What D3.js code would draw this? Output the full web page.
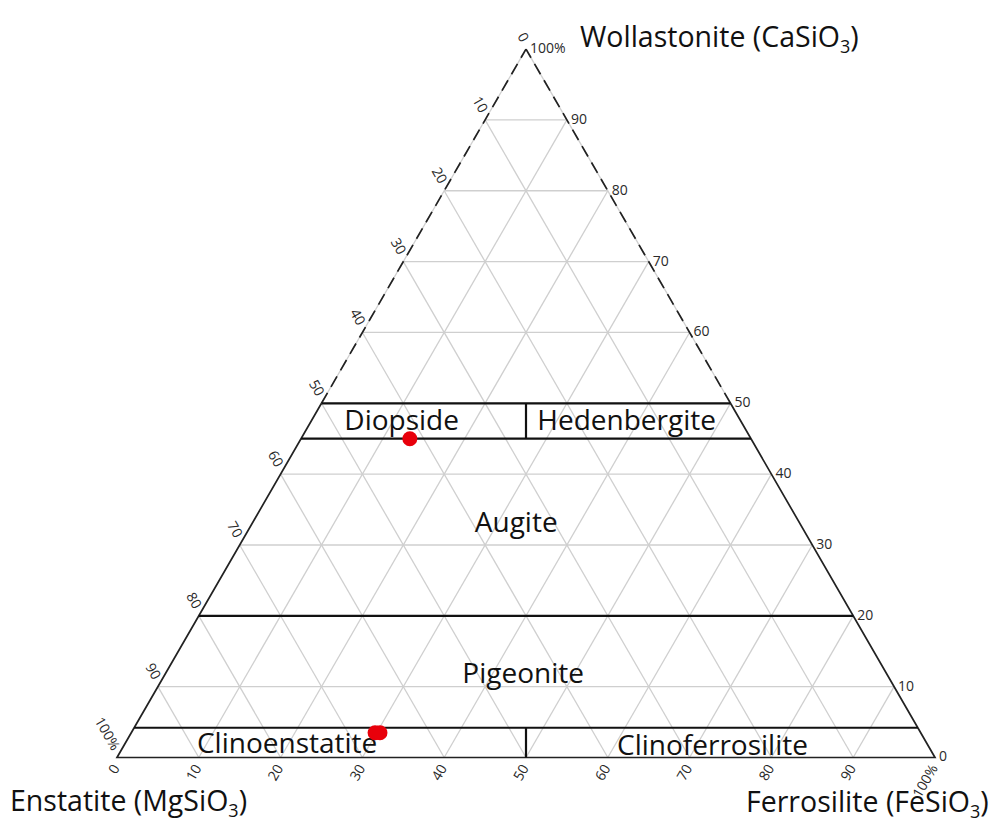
<!DOCTYPE html>
<html>
<head>
<meta charset="utf-8">
<script src="https://cdn.jsdelivr.net/npm/d3@7"></script>
<style>
  html, body { margin: 0; padding: 0; background: #fff; }
  svg { display: block; font-family: "Open Sans", "Noto Sans", sans-serif; }
</style>
</head>
<body>
<svg id="chart" width="989" height="825"></svg>
<script>
// Pyroxene quadrilateral on the Wo–En–Fs ternary (mol %)
const gridValues = [10, 20, 30, 40, 50, 60, 70, 80, 90];
const tickValues = [0, 10, 20, 30, 40, 50, 60, 70, 80, 90, 100];
const tickLabels = ["0", "10", "20", "30", "40", "50", "60", "70", "80", "90", "100%"];

// Horizontal field boundaries (Wo %)
const boundaryWo = [50, 45, 20, 4.2];
// Vertical dividers at En = Fs, between two Wo levels
const dividers = [[45, 50], [0, 4.2]];

// Field names and their label anchors (Wo, Fs)
const fieldNames = ["Diopside", "Hedenbergite", "Augite", "Pigeonite", "Clinoenstatite", "Clinoferrosilite"];
const fieldWo    = [47.6, 47.6, 33.2, 11.9, 2.0, 1.8];
const fieldFs    = [11.0, 38.5, 32.2, 43.7, 19.8, 71.9];

// Analysed pyroxenes (Wo, En, Fs)
const sampleWo = [45.0, 3.5, 3.5];
const sampleEn = [41.7, 66.7, 66.1];
const sampleFs = [13.3, 29.8, 30.4];

const svg = d3.select("#chart");

const xLeft = 117, xRight = 935, yBase = 757.5;
const side = xRight - xLeft;
const yApex = yBase - side * Math.sqrt(3) / 2;

// Horizontal position follows Fs + Wo/2, vertical position follows Wo
const xScale = d3.scaleLinear().domain([0, 100]).range([xLeft, xRight]);
const yScale = d3.scaleLinear().domain([0, 100]).range([yBase, yApex]);
const pt = (wo, fs) => [xScale(fs + wo / 2), yScale(wo)];

const line = d3.line();

// Light grid, every 10 % along each component
const grid = svg.append("g").attr("stroke", "#cfcfcf").attr("stroke-width", 1.3).attr("fill", "none");
gridValues.forEach(v => {
  grid.append("path").attr("d", line([pt(v, 0), pt(v, 100 - v)]));          // Wo = v
  grid.append("path").attr("d", line([pt(0, v), pt(100 - v, v)]));          // Fs = v
  grid.append("path").attr("d", line([pt(0, 100 - v), pt(100 - v, 0)]));    // En = v
});

// Upper edges: grey under a dashed black line
const edges = svg.append("g").attr("fill", "none");
edges.append("path").attr("d", line([pt(50, 0), pt(100, 0)])).attr("stroke", "#cfcfcf").attr("stroke-width", 1.3);
edges.append("path").attr("d", line([pt(50, 50), pt(100, 0)])).attr("stroke", "#cfcfcf").attr("stroke-width", 1.3);
edges.append("path").attr("d", line([pt(50, 0), pt(100, 0)]))
  .attr("stroke", "#222").attr("stroke-width", 1.7).attr("stroke-dasharray", "12,7");
edges.append("path").attr("d", line([pt(50, 50), pt(100, 0)]))
  .attr("stroke", "#222").attr("stroke-width", 1.7).attr("stroke-dasharray", "12,7");
// Lower edges, solid
edges.append("path").attr("d", line([pt(50, 0), pt(0, 0), pt(0, 100), pt(50, 50)]))
  .attr("stroke", "#222").attr("stroke-width", 1.7);

// Field boundaries
const bounds = svg.append("g").attr("stroke", "#111").attr("stroke-width", 2.2).attr("fill", "none");
boundaryWo.forEach(w => bounds.append("path").attr("d", line([pt(w, 0), pt(w, 100 - w)])));
dividers.forEach(([w0, w1]) => bounds.append("path")
  .attr("d", line([pt(w0, (100 - w0) / 2), pt(w1, (100 - w1) / 2)])));

// Tick labels
const ticks = svg.append("g").attr("font-size", 14).attr("fill", "#2a2a2a");
// Left edge: En, rotated down the edge
tickValues.forEach((v, i) => {
  const [x, y] = pt(100 - v, 0);
  ticks.append("text")
    .attr("transform", `translate(${x - 5},${y - 6}) rotate(60)`)
    .attr("text-anchor", "end")
    .text(tickLabels[i]);
});
// Bottom edge: Fs, rotated up
tickValues.forEach((v, i) => {
  const [x, y] = pt(0, v);
  ticks.append("text")
    .attr("transform", `translate(${x - 1},${y + 8}) rotate(-60)`)
    .attr("text-anchor", "end")
    .attr("dy", "0.35em")
    .text(tickLabels[i]);
});
// Right edge: Wo, horizontal
tickValues.forEach((v, i) => {
  const [x, y] = pt(v, 100 - v);
  ticks.append("text")
    .attr("x", x + 4).attr("y", y - 1)
    .attr("dy", "0.35em")
    .text(tickLabels[i]);
});

// Field names
svg.append("g").attr("font-size", 28).attr("fill", "#111").attr("text-anchor", "middle")
  .selectAll("text").data(fieldNames).join("text")
  .attr("x", (d, i) => pt(fieldWo[i], fieldFs[i])[0])
  .attr("y", (d, i) => pt(fieldWo[i], fieldFs[i])[1])
  .attr("dy", "0.35em")
  .text(d => d);

// Samples
svg.append("g").selectAll("circle").data(sampleWo).join("circle")
  .attr("cx", (d, i) => xScale(sampleFs[i] + sampleWo[i] / 2))
  .attr("cy", (d, i) => yScale(sampleWo[i]))
  .attr("r", 7.5)
  .attr("fill", "#e8000b");

// End-member titles
function title(x, y, name, formula) {
  const t = svg.append("text").attr("x", x).attr("y", y).attr("font-size", 28.5).attr("fill", "#111");
  t.append("tspan").text(`${name} (${formula}`);
  t.append("tspan").attr("font-size", 18).attr("dy", 6).text("3");
  t.append("tspan").attr("dy", -6).text(")");
}
title(580, 47, "Wollastonite", "CaSiO");
title(10, 811, "Enstatite", "MgSiO");
title(746, 812, "Ferrosilite", "FeSiO");
</script>
</body>
</html>
